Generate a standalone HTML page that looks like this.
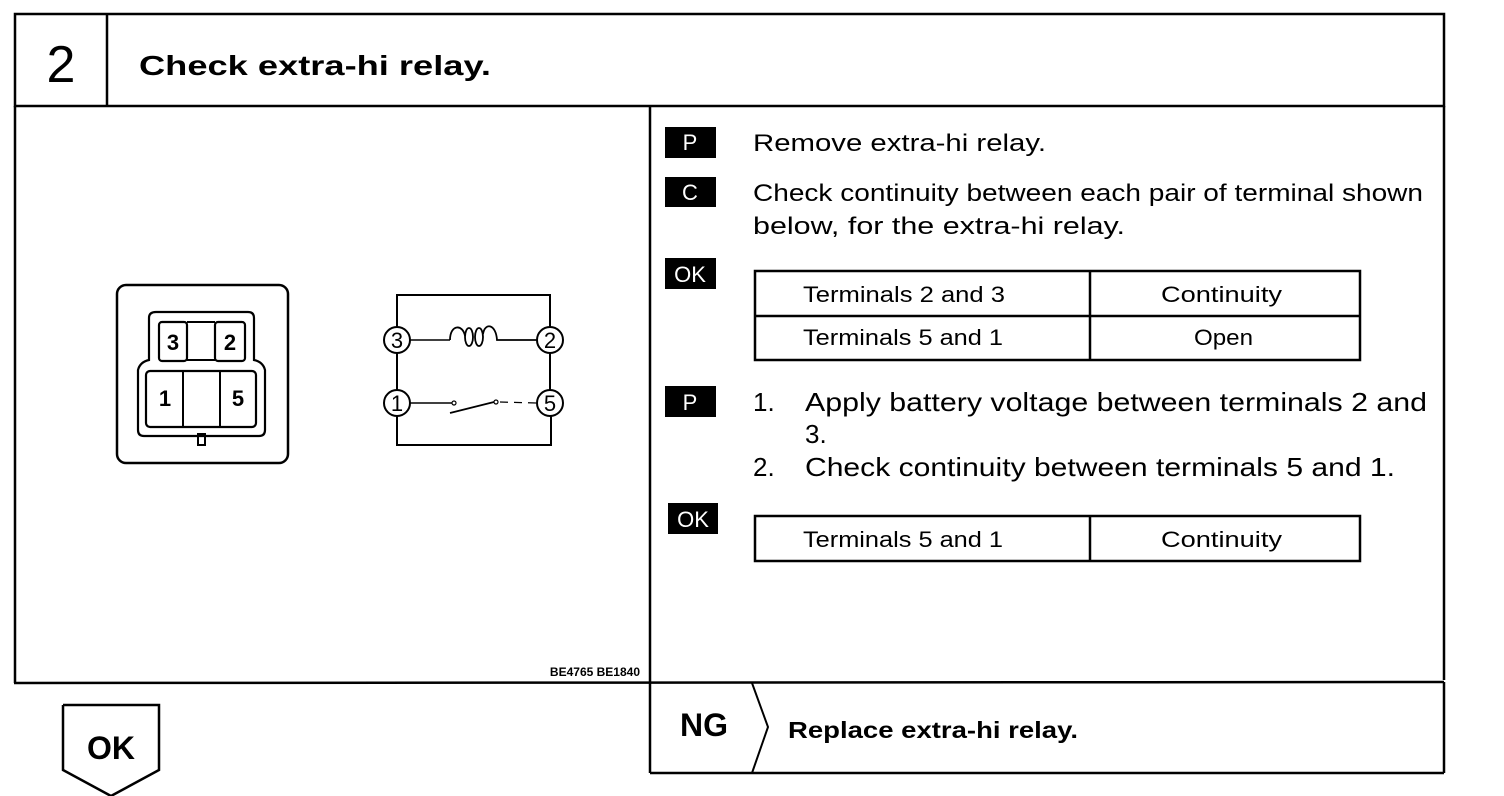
<!DOCTYPE html>
<html><head><meta charset="utf-8"><style>
html,body{margin:0;padding:0;background:#fff;}
svg{display:block;}
text{font-family:"Liberation Sans",sans-serif;fill:#000;}
</style></head><body>
<svg width="1504" height="796" viewBox="0 0 1504 796" xmlns="http://www.w3.org/2000/svg">
<g fill="none" stroke="#000" stroke-width="2.5">
<rect x="15" y="14" width="1429" height="92"/>
<line x1="107" y1="14" x2="107" y2="106"/>
<line x1="15" y1="106" x2="15" y2="683"/>
<line x1="1444" y1="106" x2="1444" y2="680"/>
<line x1="650" y1="106" x2="650" y2="773"/>
<line x1="14" y1="683" x2="1444" y2="682"/>
<line x1="650" y1="773" x2="1444" y2="773"/>
<line x1="1444" y1="682" x2="1444" y2="773"/>
<polyline points="752,683 768,727 752,773" stroke-width="2"/>
<polyline points="63,705 159,705 159,770 111,796 63,770 63,705"/>
<rect x="755" y="271" width="605" height="89"/>
<line x1="755" y1="316" x2="1360" y2="316"/>
<line x1="1090" y1="271" x2="1090" y2="360"/>
<rect x="755" y="516" width="605" height="45"/>
<line x1="1090" y1="516" x2="1090" y2="561"/>
<rect x="117" y="285" width="171" height="178" rx="9"/>
<path d="M156,312 H248 Q254,312 254,318 V360 Q263,362 265,370 V430 Q265,436 259,436 H144 Q138,436 138,430 V370 Q140,362 149,360 V318 Q149,312 156,312 Z" stroke-width="2.2"/>
<rect x="159" y="322" width="28" height="39" rx="3" stroke-width="2.2"/>
<line x1="187" y1="322" x2="215" y2="322" stroke-width="2"/>
<line x1="187" y1="360" x2="215" y2="360" stroke-width="2"/>
<rect x="215" y="322" width="30" height="39" rx="3" stroke-width="2.2"/>
<rect x="146" y="371" width="110" height="56" rx="4" stroke-width="2.2"/>
<line x1="183" y1="371" x2="183" y2="427" stroke-width="2"/>
<line x1="220" y1="371" x2="220" y2="427" stroke-width="2"/>
<rect x="198" y="434" width="7" height="11" stroke-width="2"/>
<polyline points="397,327 397,295 550,295 550,327" stroke-width="2"/>
<line x1="397" y1="353" x2="397" y2="390" stroke-width="2"/>
<line x1="550" y1="353" x2="550" y2="390" stroke-width="2"/>
<polyline points="397,416 397,445 551,445 551,416" stroke-width="2"/>
<circle cx="397" cy="340" r="13" stroke-width="2"/>
<circle cx="550" cy="340" r="13" stroke-width="2"/>
<circle cx="397" cy="403" r="13" stroke-width="2"/>
<circle cx="550" cy="403" r="13" stroke-width="2"/>
<line x1="410" y1="340" x2="450" y2="340" stroke-width="1.5"/>
<path d="M450,340 C450,324 463,324 465,336" stroke-width="1.8"/>
<ellipse cx="469" cy="337" rx="4" ry="9" stroke-width="1.8"/>
<ellipse cx="479" cy="337" rx="4" ry="9" stroke-width="1.8"/>
<path d="M483,334 C485,322 496,324 497,340 H537" stroke-width="1.8"/>
<line x1="410" y1="403" x2="452" y2="403" stroke-width="1.5"/>
<circle cx="454" cy="403" r="2" stroke-width="1.2"/>
<line x1="450" y1="413" x2="494" y2="402" stroke-width="1.8"/>
<circle cx="496" cy="402" r="2" stroke-width="1.2"/>
<line x1="500" y1="402" x2="537" y2="403" stroke-width="1.2" stroke-dasharray="8,6"/>
</g>
<g font-weight="bold" font-size="22" text-anchor="middle">
<text x="173" y="350">3</text><text x="230" y="350">2</text>
<text x="165" y="406">1</text><text x="238" y="406">5</text>
</g>
<g font-size="22" text-anchor="middle">
<text x="397" y="348">3</text><text x="550" y="348">2</text>
<text x="397" y="411">1</text><text x="550" y="411">5</text>
</g>
<text x="61" y="82" font-size="52" text-anchor="middle">2</text>
<text x="139" y="75" font-size="28" font-weight="bold" textLength="352" lengthAdjust="spacingAndGlyphs">Check  extra-hi  relay.</text>
<text x="640" y="676" font-size="12" font-weight="bold" text-anchor="end">BE4765  BE1840</text>
<rect x="665" y="127" width="51" height="31" fill="#000"/>
<rect x="665" y="177" width="51" height="30" fill="#000"/>
<rect x="665" y="258" width="51" height="31" fill="#000"/>
<rect x="665" y="386" width="51" height="31" fill="#000"/>
<rect x="668" y="503" width="50" height="31" fill="#000"/>
<g font-size="22" text-anchor="middle">
<text x="690" y="150" style="fill:#fff">P</text>
<text x="690" y="200" style="fill:#fff">C</text>
<text x="690" y="282" style="fill:#fff">OK</text>
<text x="690" y="410" style="fill:#fff">P</text>
<text x="693" y="527" style="fill:#fff">OK</text>
</g>
<g font-size="24">
<text x="753" y="151" textLength="293" lengthAdjust="spacingAndGlyphs">Remove extra-hi relay.</text>
<text x="753" y="201" textLength="670" lengthAdjust="spacingAndGlyphs">Check continuity between each pair of terminal shown</text>
<text x="753" y="234" textLength="372" lengthAdjust="spacingAndGlyphs">below, for the extra-hi relay.</text>
</g>
<g font-size="26">
<text x="753" y="411">1.</text>
<text x="805" y="411" textLength="622" lengthAdjust="spacingAndGlyphs">Apply battery voltage between terminals 2 and</text>
<text x="805" y="443">3.</text>
<text x="753" y="476">2.</text>
<text x="805" y="476" textLength="590" lengthAdjust="spacingAndGlyphs">Check continuity between terminals 5 and 1.</text>
</g>
<g font-size="22">
<text x="803" y="302" textLength="202" lengthAdjust="spacingAndGlyphs">Terminals 2 and 3</text>
<text x="1161" y="302" textLength="121" lengthAdjust="spacingAndGlyphs">Continuity</text>
<text x="803" y="345" textLength="200" lengthAdjust="spacingAndGlyphs">Terminals 5 and 1</text>
<text x="1194" y="345" textLength="59" lengthAdjust="spacingAndGlyphs">Open</text>
<text x="803" y="547" textLength="200" lengthAdjust="spacingAndGlyphs">Terminals 5 and 1</text>
<text x="1161" y="547" textLength="121" lengthAdjust="spacingAndGlyphs">Continuity</text>
</g>
<text x="680" y="736" font-size="32" font-weight="bold">NG</text>
<text x="788" y="738" font-size="23" font-weight="bold" textLength="290" lengthAdjust="spacingAndGlyphs">Replace extra-hi relay.</text>
<text x="111" y="759" font-size="32" font-weight="bold" text-anchor="middle">OK</text>
</svg>
</body></html>
